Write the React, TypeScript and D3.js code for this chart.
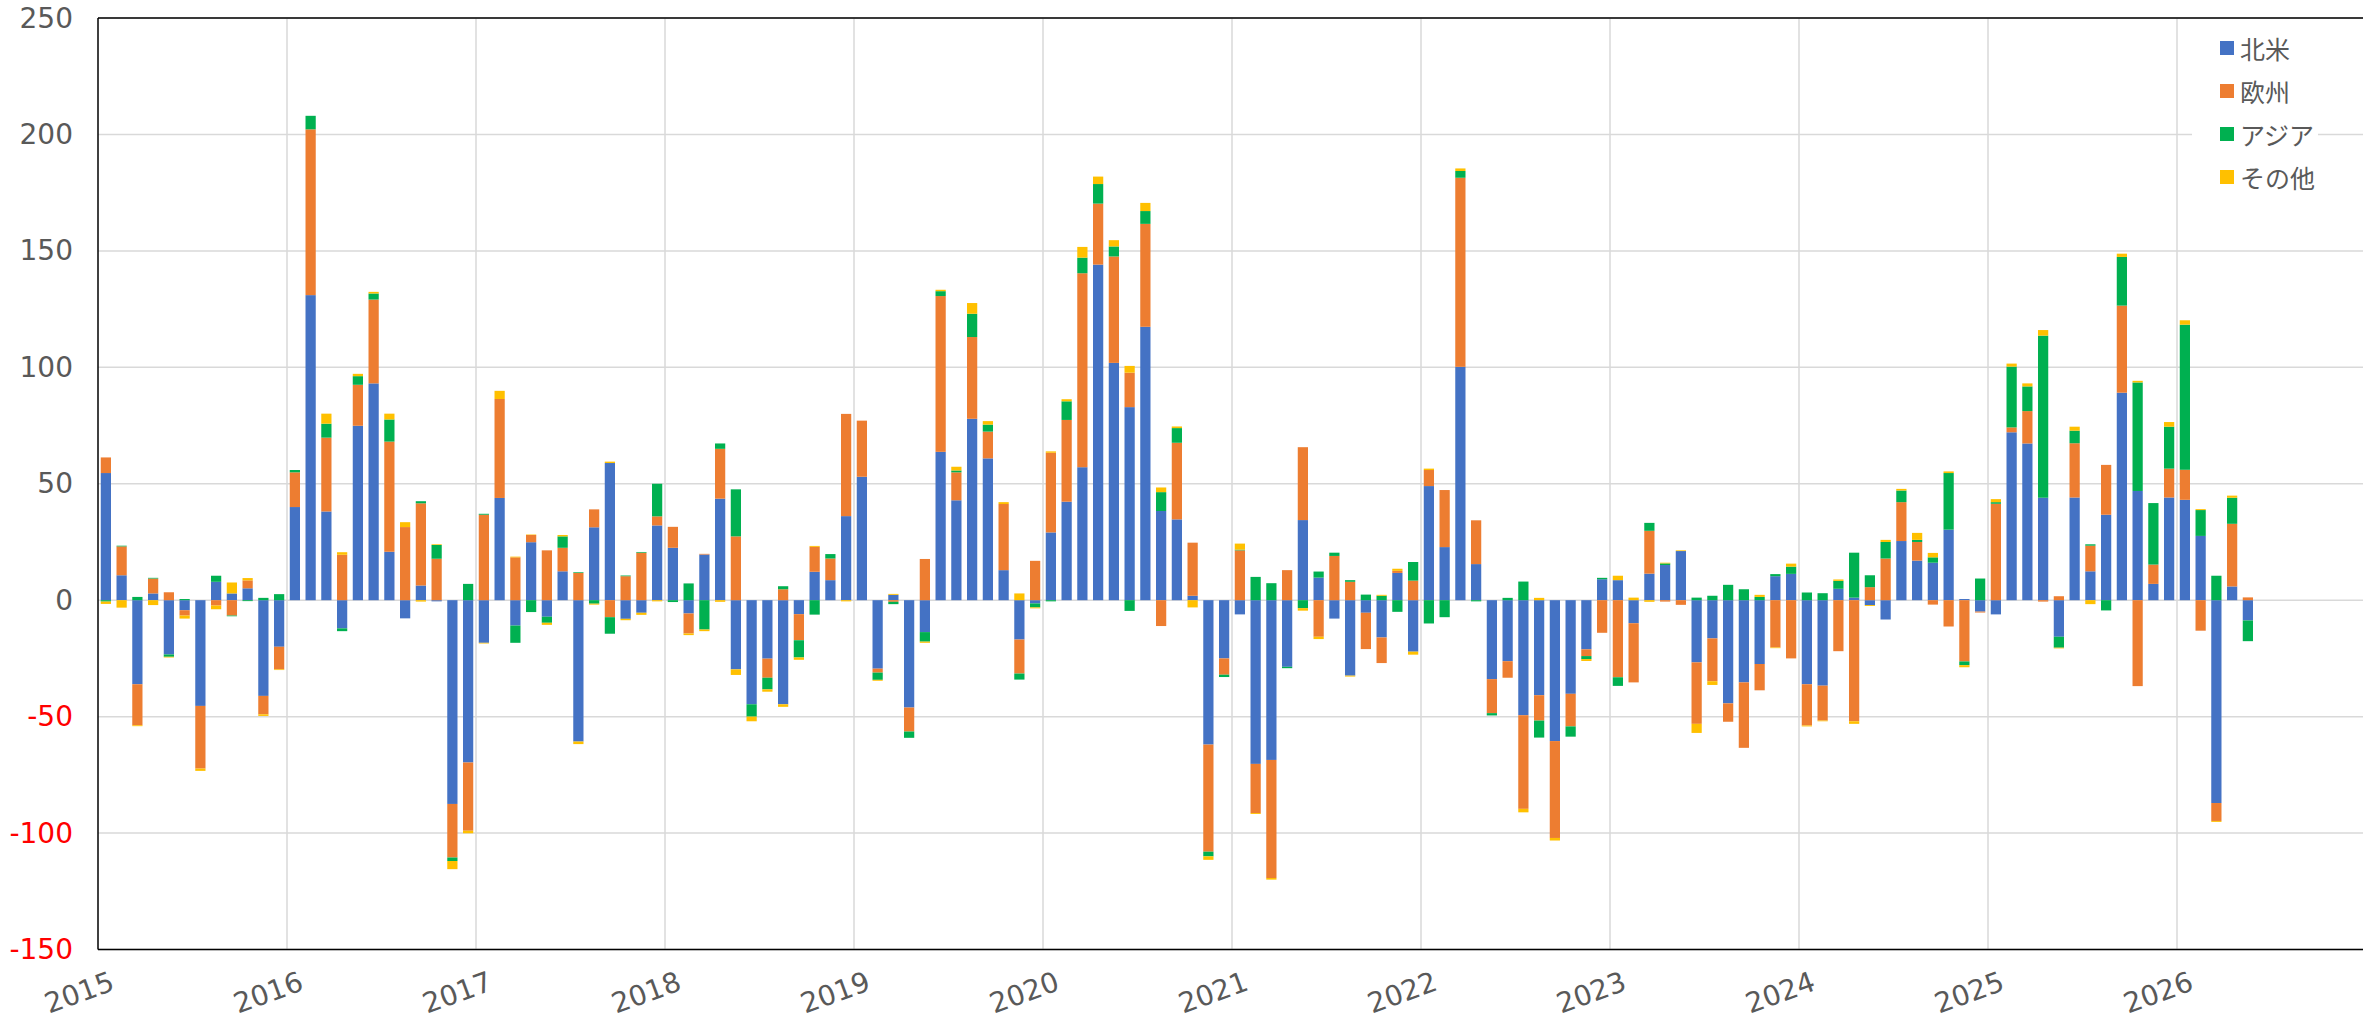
import React, { useEffect } from 'react';
import * as d3 from 'd3';

// ---- Data ----
const seriesNames = ['北米', '欧州', 'アジア', 'その他'];
const seriesColors = ['#4472C4', '#ED7D31', '#00B050', '#FFC000'];
const yTicks = [-150, -100, -50, 0, 50, 100, 150, 200, 250];
const yearLabels = ['2015', '2016', '2017', '2018', '2019', '2020', '2021', '2022', '2023', '2024', '2025', '2026'];

// monthly values, Jan 2015 .. May 2026
const northAmerica = [
  54.6, 10.7, -36.1, 2.9, -23.3, -4.3, -45.4, 7.9, 2.9, 5.1, -41.1, -20.0,
  40.0, 131.0, 38.1, -12.1, 74.9, 93.1, 20.8, -7.8, 6.3, -0.5, -87.5, -69.7,
  -18.3, 43.9, -10.9, 24.9, -7.1, 12.4, -60.7, 31.3, 58.9, -8.0, -5.4, 32.1,
  22.5, -5.7, 19.6, 43.6, -29.7, -44.7, -25.1, -44.7, -6.0, 12.2, 8.6, 36.1,
  53.0, -29.4, 2.3, -46.1, -13.7, 63.7, 42.9, 77.9, 60.9, 12.9, -16.9, -1.4,
  29.1, 42.3, 57.1, 144.1, 101.9, 82.9, 117.4, 38.3, 34.7, 1.9, -62.0, -25.0,
  -6.1, -70.3, -68.6, -28.6, 34.4, 9.7, -7.9, -32.4, -5.4, -16.0, 11.7, -22.1,
  49.0, 22.8, 100.2, 15.5, -33.9, -26.2, -49.4, -40.8, -60.5, -40.2, -21.1, 9.0,
  8.6, -9.9, 11.4, 15.1, 21.1, -26.7, -16.4, -44.3, -35.3, -27.4, 10.3, 11.3,
  -36.1, -36.7, 4.9, 1.1, -2.1, -8.3, 25.4, 17.0, 16.1, 30.3, 0.5, -4.9,
  -6.1, 72.1, 67.3, 44.0, -15.7, 44.1, 12.4, 36.7, 89.1, 46.9, 7.0, 44.1,
  43.1, 27.6, -87.1, 5.9, -8.7,
];
const europe = [
  6.7, 12.4, -17.6, 6.4, 3.4, -2.3, -26.9, -2.3, -6.6, 3.4, -7.9, -9.7,
  14.9, 71.2, 31.7, 19.5, 17.6, 36.0, 47.3, 31.4, 35.3, 17.8, -23.0, -29.3,
  36.7, 42.5, 18.4, 3.1, 21.4, 10.1, 11.7, 7.7, -7.3, 10.3, 20.4, 3.9,
  9.0, -8.6, 0.3, 21.4, 27.4, 0, -8.2, 4.7, -11.2, 10.7, 9.3, 43.9,
  24.1, -1.7, -0.7, -10.3, 17.7, 66.9, 12.0, 35.1, 11.5, 28.4, -14.6, 16.9,
  34.2, 35.1, 83.3, 26.2, 45.7, 14.8, 44.2, -11.1, 32.9, 22.8, -46.0, -7.0,
  21.4, -21.1, -50.7, 12.9, 31.3, -15.7, 19.0, 7.9, -15.6, -11.0, 0.9, 8.4,
  6.9, 24.5, 81.2, 18.8, -14.6, -7.1, -40.2, -10.9, -41.6, -14.0, -2.9, -14.0,
  -33.1, -25.4, 18.4, -0.6, -2.0, -26.4, -18.4, -7.9, -28.1, -11.3, -20.3, -25.0,
  -17.7, -15.0, -21.9, -52.0, 5.6, 17.9, 16.7, 8.0, -1.9, -11.3, -26.3, -0.4,
  41.4, 2.1, 13.9, -0.6, 1.7, 23.3, 11.0, 21.4, 37.4, -36.9, 8.3, 12.4,
  12.9, -13.1, -7.7, 26.9, 1.2,
];
const asia = [
  -0.6, 0.3, 1.4, 0.3, -1.0, 0.5, 0, 2.6, -0.3, -0.4, 1.0, 2.6,
  1.0, 5.8, 6.0, -1.2, 3.7, 2.6, 9.5, 0, 0.9, 5.9, -1.5, 7.0,
  0.4, 0, -7.4, -5.1, -2.6, 4.9, 0.3, -1.5, -7.1, 0.3, 0.3, 14.0,
  -0.8, 7.2, -12.6, 2.3, 20.2, -5.3, -5.0, 1.3, -7.4, -6.2, 1.9, 0,
  0, -3.1, -1.0, -2.7, -4.1, 2.1, 0.8, 10.0, 3.0, 0, -2.6, -1.7,
  -0.5, 8.0, 6.7, 8.4, 4.3, -4.6, 5.5, 8.1, 6.3, 0, -2.0, -1.0,
  0.3, 10.0, 7.3, -0.6, -3.4, 2.6, 1.4, 0.7, 2.4, 1.9, -5.0, 8.0,
  -10.0, -7.3, 2.9, -0.5, -1.0, 1.0, 8.0, -7.3, 0, -4.4, -1.3, 0.6,
  -3.7, 0, 3.4, 0.7, 0, 1.1, 1.9, 6.6, 4.7, 1.4, 0.9, 3.1,
  3.3, 3.0, 3.4, 19.3, 5.1, 7.1, 5.0, 0.9, 2.3, 24.3, -1.6, 9.3,
  0.7, 26.1, 10.6, 69.6, -4.7, 5.4, 0.6, -4.4, 20.9, 46.6, 26.4, 18.0,
  62.3, 11.1, 10.5, 11.2, -8.9,
];
const others = [
  -1.0, -3.2, -0.4, -2.1, -0.3, -1.3, -1.0, -1.6, 4.7, 1.0, -0.7, -0.3,
  0, 0, 4.3, 1.1, 1.0, 0.7, 2.5, 2.1, -0.6, 0.3, -3.5, -1.1,
  -0.3, 3.5, 0.3, 0.2, -0.9, 0.6, -1.1, -0.4, 0.6, -0.6, -0.9, -0.5,
  0, -0.7, -0.7, -0.7, -2.4, -2.0, -1.0, -1.1, -1.0, 0.4, 0, -0.5,
  0, -0.4, 0.4, 0, -0.5, 0.6, 1.6, 4.6, 1.5, 0.8, 2.9, -0.4,
  0.6, 0.9, 4.6, 3.2, 2.7, 2.9, 3.5, 2.0, 0.7, -3.1, -1.5, 0,
  2.6, -0.4, -0.7, 0, -1.1, -1.0, 0, -0.4, 0, 0.4, 0.9, -1.3,
  0.6, 0, 1.1, 0, 0, 0, -1.5, 1.0, -1.1, 0, -0.8, 0,
  1.9, 1.1, -0.7, 0.3, 0.3, -3.9, -1.6, 0, 0, 0.9, -0.3, 1.3,
  -0.4, -0.3, 0.6, -1.1, -0.4, 0.9, 0.7, 3.0, 1.9, 0.7, -0.9, 0,
  1.3, 1.3, 1.3, 2.4, -0.3, 1.7, -1.7, 0, 1.4, 0.7, 0, 2.0,
  1.9, 0.4, -0.4, 0.9, 0,
];

// ---- Layout ----
const W = 2363;
const H = 1023;
const plotLeft = 98;
const plotRight = 2366;
const plotTop = 18;
const plotBottom = 949.5;

const numFont = '"DejaVu Sans", Verdana, sans-serif';
const jpFont = '"Noto Sans CJK JP", "Noto Sans", sans-serif';

export default function App() {
  useEffect(() => {
    document.body.style.margin = '0';
  }, []);

  const months = d3.timeMonth.range(new Date(2015, 0, 1), new Date(2027, 0, 1));
  const monthKeys = months.map((d) => d3.timeFormat('%Y-%m')(d));

  const x = d3
    .scaleBand<string>()
    .domain(monthKeys)
    .range([plotLeft, plotRight])
    .paddingInner(0.35)
    .paddingOuter(0.175);
  const step = x.step();
  const yearX = (i: number) => plotLeft + i * 12 * step;

  const y = d3.scaleLinear().domain([-150, 250]).range([plotBottom, plotTop]);

  const seriesArrays = [northAmerica, europe, asia, others];
  const rows = northAmerica.map((_, i) => {
    const r: any = { key: monthKeys[i] };
    seriesNames.forEach((name, s) => {
      r[name] = seriesArrays[s][i];
    });
    return r;
  });

  const stacked = d3.stack<any>().keys(seriesNames).offset(d3.stackOffsetDiverging)(rows);

  const gridColor = '#D9D9D9';

  return (
    <svg width={W} height={H} style={{ display: 'block', background: '#fff' }}>
      {/* horizontal gridlines */}
      {yTicks.map((t) => (
        <line key={'h' + t} x1={plotLeft} x2={plotRight} y1={y(t)} y2={y(t)} stroke={gridColor} strokeWidth={1.5} />
      ))}
      {/* vertical year gridlines */}
      {yearLabels.map((_, i) =>
        i === 0 ? null : (
          <line key={'v' + i} x1={yearX(i)} x2={yearX(i)} y1={plotTop} y2={plotBottom} stroke={gridColor} strokeWidth={1.5} />
        )
      )}

      {/* bars */}
      {stacked.map((layer, s) => (
        <g key={layer.key} fill={seriesColors[s]}>
          {layer.map((d, i) => {
            const y0 = y(d[0]);
            const y1 = y(d[1]);
            const h = Math.abs(y0 - y1);
            if (h < 0.01) return null;
            return (
              <rect
                key={i}
                x={x(d.data.key)}
                width={x.bandwidth()}
                y={Math.min(y0, y1)}
                height={h}
              />
            );
          })}
        </g>
      ))}

      {/* plot frame */}
      <line x1={plotLeft} x2={plotRight} y1={plotTop} y2={plotTop} stroke="#000" strokeWidth={1.5} />
      <line x1={plotLeft} x2={plotRight} y1={plotBottom} y2={plotBottom} stroke="#000" strokeWidth={1.5} />
      <line x1={plotLeft} x2={plotLeft} y1={plotTop} y2={plotBottom} stroke="#000" strokeWidth={1.5} />

      {/* y axis labels */}
      {yTicks.map((t) => (
        <text
          key={'yl' + t}
          x={73}
          y={y(t)}
          textAnchor="end"
          dominantBaseline="central"
          fontFamily={numFont}
          fontSize={28}
          fill={t < 0 ? '#FF0000' : '#595959'}
        >
          {t}
        </text>
      ))}

      {/* x axis labels */}
      {yearLabels.map((lab, i) => {
        const tx = yearX(i) + 18;
        const ty = plotBottom + 40;
        return (
          <text
            key={'xl' + lab}
            x={tx}
            y={ty}
            transform={`rotate(-20, ${tx}, ${ty})`}
            textAnchor="end"
            fontFamily={numFont}
            fontSize={28}
            fill="#595959"
          >
            {lab}
          </text>
        );
      })}

      {/* legend */}
      <rect x={2192} y={22} width={126} height={178} fill="#fff" />
      {seriesNames.map((name, i) => {
        const cy = 48 + i * 43;
        return (
          <g key={'lg' + name}>
            <rect x={2220} y={cy - 7} width={14} height={14} fill={seriesColors[i]} />
            <text x={2240} y={cy} dominantBaseline="central" fontFamily={jpFont} fontSize={25} fill="#595959">
              {name}
            </text>
          </g>
        );
      })}
    </svg>
  );
}
